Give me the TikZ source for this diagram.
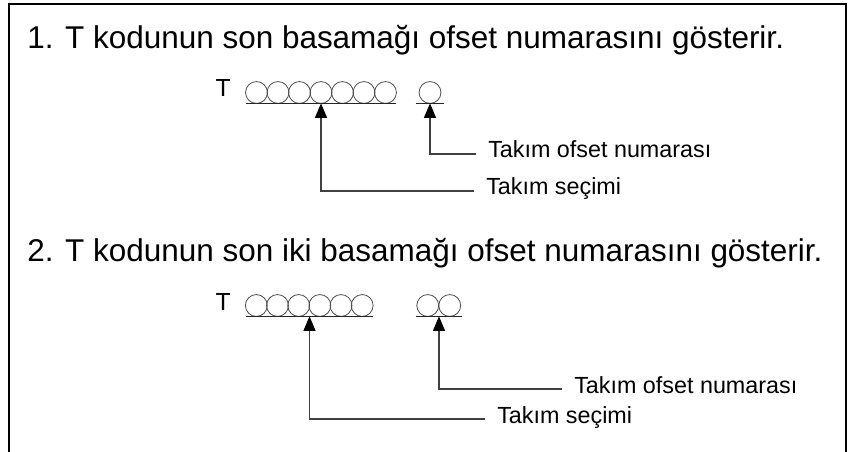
\documentclass[tikz,border=0pt]{standalone}
\usepackage{fontspec}
\setmainfont{Liberation Sans}
\usetikzlibrary{arrows.meta,calc}

\begin{document}
\begin{tikzpicture}[
    x=0.75pt, y=-0.75pt,
    heading/.style={anchor=base west, inner sep=0pt, font=\fontsize{23.6}{27}\selectfont},
    tee/.style={anchor=base east, inner sep=0pt, font=\fontsize{18.5}{21}\selectfont},
    field/.style={minimum height=16.5pt, inner sep=0pt},
    uline/.style={draw=black!85, line width=1.1pt},
    digit/.style={draw=black!70, line width=0.6pt},
    lbl/.style={anchor=west, inner sep=9pt, text height=6pt, text depth=0pt, font=\fontsize{17.5}{20}\selectfont},
    conn/.style={draw=black!75, line width=1pt, -{Triangle[length=11pt, width=9pt, color=black]}}
]
    \useasboundingbox (0,0) rectangle (850,452);
    \draw[line width=1.6pt] (9,452) |- (846,4) -- (846,452);

    % first case
    \node[heading] (hdrA) at (27,49) {1. T kodunun son basamağı ofset numarasını gösterir.};
    \node[tee] (tA) at (231,97) {T};
    \node[field, minimum width=112.5pt] (fA1) at (321,92) {};
    \node[field, minimum width=21pt] (fA2) at (430,92) {};
    \foreach \i in {0,...,6}
        \draw[digit] ($(fA1.west)+(10.75+21.5*\i,0.5)$) circle[radius=8.2pt];
    \draw[digit] ($(fA2.center)+(0,0.5)$) circle[radius=8.2pt];
    \draw[uline] (fA1.south west) -- (fA1.south east);
    \draw[uline] (fA2.south west) -- (fA2.south east);

    \node[lbl] (lA2) at (476,154) {Takım ofset numarası};
    \node[lbl] (lA1) at (474,191) {Takım seçimi};
    \draw[conn] (lA2.west) -| (fA2.south);
    \draw[conn] (lA1.west) -| (fA1.south);

    % second case
    \node[heading] (hdrB) at (27,262) {2. T kodunun son iki basamağı ofset numarasını gösterir.};
    \node[tee] (tB) at (231,311) {T};
    \node[field, minimum width=95.25pt] (fB1) at (309.5,305) {};
    \node[field, minimum width=34.5pt] (fB2) at (439,305) {};
    \foreach \i in {0,...,5}
        \draw[digit] ($(fB1.west)+(10.6+21.17*\i,0.5)$) circle[radius=8.2pt];
    \foreach \i in {0,1}
        \draw[digit] ($(fB2.west)+(12+22*\i,0.5)$) circle[radius=8.2pt];
    \draw[uline] (fB1.south west) -- (fB1.south east);
    \draw[uline] (fB2.south west) -- (fB2.south east);

    \node[lbl] (lB2) at (562,389) {Takım ofset numarası};
    \node[lbl] (lB1) at (485,419) {Takım seçimi};
    \draw[conn] (lB2.west) -| (fB2.south);
    \draw[conn] (lB1.west) -| (fB1.south);
\end{tikzpicture}
\end{document}
